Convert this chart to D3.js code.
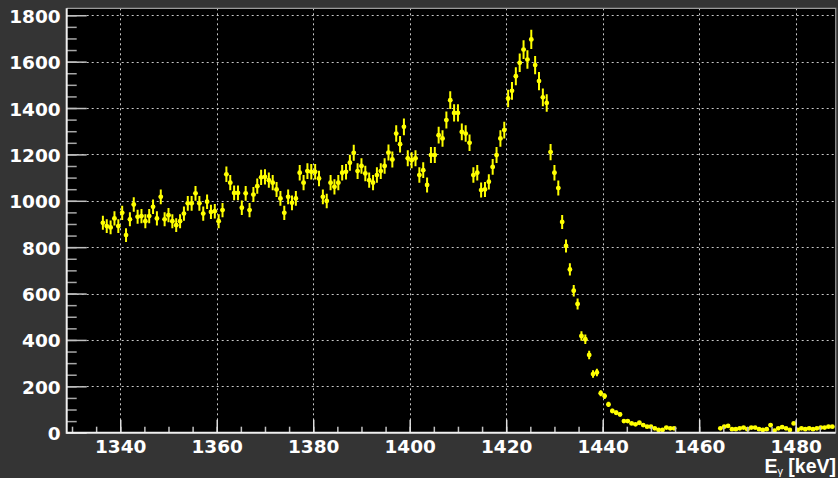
<!DOCTYPE html>
<html>
<head>
<meta charset="utf-8">
<script src="https://cdn.jsdelivr.net/npm/d3@7"></script>
<style>
  body { margin: 0; background: #343434; }
  svg { display: block; }
</style>
</head>
<body>
<div id="chart"></div>
<script>
// histogram binning (keV)
var binLow = 1328.8,
  binWidth = 0.8,
  firstBin = 9;

// counts per bin, starting at firstBin; null = empty bin
var counts = [
  905, 891, 885, 924, 891, 948, 852, 920, 984, 931,
  934, 912, 934, 974, 924, 1017, 920, 938, 912, 895,
  912, 945, 989, 989, 1032, 989, 945, 996, 952, 955,
  912, 960, 1114, 1078, 1034, 1034, 970, 1032, 960, 1027,
  1063, 1101, 1103, 1089, 1078, 1049, 1010, 948, 1017, 991,
  1010, 1121, 1078, 1128, 1125, 1125, 1096, 1017, 999, 1078,
  1060, 1078, 1121, 1125, 1164, 1207, 1128, 1150, 1118, 1089,
  1078, 1111, 1128, 1150, 1208, 1178, 1290, 1244, 1319, 1183,
  1175, 1183, 1111, 1132, 1068, 1197, 1197, 1283, 1269, 1348,
  1434, 1379, 1379, 1297, 1290, 1250, 1111, 1121, 1046, 1049,
  1082, 1146, 1197, 1269, 1305, 1441, 1474, 1537, 1595, 1652,
  1609, 1696, 1585, 1516, 1446, 1422, 1210, 1121, 1055, 909,
  805, 704, 612, 555, 417, 403, 335, 253, 260, 170,
  158, 122, 94, 86, 79, 50, 50, 40, 36, 43,
  33, 26, 26, 19, 12, 12, 22, 19, 19, null,
  null, null, null, null, null, null, null, null, null, null,
  19, 26, 29, 15, 15, 19, 22, 15, 22, 22,
  15, 12, 15, 33, 9, 19, 24, 19, 12, 40,
  12, 19, 15, 19, 15, 19, 22, 22, 26, 26
];

var xTicks = [1340, 1360, 1380, 1400, 1420, 1440, 1460, 1480];
var yTicks = [0, 200, 400, 600, 800, 1000, 1200, 1400, 1600, 1800];
var xTitle = "E", xTitleSub = "\u03b3", xTitleUnit = " [keV]";

var W = 838, H = 478;
var frame = { left: 66.7, right: 835.7, top: 8.3, bottom: 432.7 };

var x = d3.scaleLinear().domain([1328.9, 1488.3]).range([frame.left, frame.right]);
var y = d3.scaleLinear().domain([0, 1830]).range([frame.bottom, frame.top]);

var data = counts.map(function(c, i) {
  var lo = binLow + (firstBin + i) * binWidth;
  return { lo: lo, hi: lo + binWidth, mid: lo + binWidth / 2, value: c };
}).filter(function(d) { return d.value !== null; });

var svg = d3.select("#chart").append("svg")
  .attr("width", W)
  .attr("height", H);

svg.append("rect")
  .attr("width", W).attr("height", H)
  .attr("fill", "#343434");

svg.append("rect")
  .attr("x", frame.left).attr("y", frame.top)
  .attr("width", frame.right - frame.left)
  .attr("height", frame.bottom - frame.top)
  .attr("fill", "#000");

// grid
var grid = svg.append("g").attr("class", "grid")
  .attr("stroke", "#c8c8c8")
  .attr("stroke-width", 1)
  .attr("stroke-dasharray", "2,3");

grid.selectAll(".gx").data(xTicks).enter().append("line")
  .attr("x1", function(d) { return Math.round(x(d)) + 0.5; })
  .attr("x2", function(d) { return Math.round(x(d)) + 0.5; })
  .attr("y1", frame.top)
  .attr("y2", frame.bottom);

grid.selectAll(".gy").data(yTicks.slice(1)).enter().append("line")
  .attr("y1", function(d) { return Math.round(y(d)) + 0.5; })
  .attr("y2", function(d) { return Math.round(y(d)) + 0.5; })
  .attr("x1", frame.left)
  .attr("x2", frame.right);

// frame top / right
svg.append("path")
  .attr("d", "M" + frame.left + "," + frame.top + "H" + frame.right + "V" + frame.bottom)
  .attr("fill", "none")
  .attr("stroke", "#9a9a9a")
  .attr("stroke-width", 1.2);

// data: error bars + markers
var clip = svg.append("clipPath").attr("id", "clip")
  .append("rect")
  .attr("x", frame.left).attr("y", frame.top)
  .attr("width", frame.right - frame.left)
  .attr("height", frame.bottom - frame.top);

var pts = svg.append("g").attr("clip-path", "url(#clip)");

pts.selectAll(".ey").data(data).enter().append("line")
  .attr("x1", function(d) { return x(d.mid); })
  .attr("x2", function(d) { return x(d.mid); })
  .attr("y1", function(d) { return y(d.value + Math.sqrt(d.value)); })
  .attr("y2", function(d) { return y(d.value - Math.sqrt(d.value)); })
  .attr("stroke", "#ffff00")
  .attr("stroke-width", 2);

pts.selectAll(".ex").data(data).enter().append("line")
  .attr("x1", function(d) { return x(d.lo); })
  .attr("x2", function(d) { return x(d.hi); })
  .attr("y1", function(d) { return y(d.value); })
  .attr("y2", function(d) { return y(d.value); })
  .attr("stroke", "#ffff00")
  .attr("stroke-width", 2);

pts.selectAll("circle").data(data).enter().append("circle")
  .attr("cx", function(d) { return x(d.mid); })
  .attr("cy", function(d) { return y(d.value); })
  .attr("r", 2.4)
  .attr("fill", "#ffff00");

// y axis
var yMinor = svg.append("g")
  .attr("transform", "translate(" + frame.left + ",0)")
  .call(d3.axisLeft(y).tickValues(d3.range(0, 1830, 50)).tickSize(-10).tickFormat(""));
yMinor.select(".domain").remove();
yMinor.selectAll("line").attr("stroke", "#a8a8a8").attr("stroke-width", 1.5);

var yAxis = svg.append("g")
  .attr("transform", "translate(" + frame.left + ",0)")
  .call(d3.axisLeft(y).tickValues(yTicks).tickSize(-20).tickPadding(6).tickFormat(d3.format("d")));
yAxis.select(".domain").remove();
yAxis.selectAll("line").attr("stroke", "#c0c0c0").attr("stroke-width", 1.5);
yAxis.selectAll("text")
  .attr("fill", "#ffffff")
  .attr("dy", "0.38em")
  .style("font-family", "DejaVu Sans, sans-serif")
  .style("font-weight", "bold")
  .style("font-size", "18.5px");

// x axis
var xMinor = svg.append("g")
  .attr("transform", "translate(0," + frame.bottom + ")")
  .call(d3.axisBottom(x).tickValues(d3.range(1330, 1489, 5)).tickSize(-6).tickFormat(""));
xMinor.select(".domain").remove();
xMinor.selectAll("line").attr("stroke", "#c0c0c0").attr("stroke-width", 1.5);

var xAxis = svg.append("g")
  .attr("transform", "translate(0," + frame.bottom + ")")
  .call(d3.axisBottom(x).tickValues(xTicks).tickSize(-13).tickPadding(7).tickFormat(d3.format("d")));
xAxis.select(".domain").remove();
xAxis.selectAll("line").attr("stroke", "#e0e0e0").attr("stroke-width", 1.5);
xAxis.selectAll("text")
  .attr("fill", "#ffffff")
  .style("font-family", "DejaVu Sans, sans-serif")
  .style("font-weight", "bold")
  .style("font-size", "18.5px");

// axis lines
svg.append("line")
  .attr("x1", frame.left).attr("x2", frame.left)
  .attr("y1", frame.top).attr("y2", frame.bottom + 1)
  .attr("stroke", "#f0f0f0").attr("stroke-width", 2);
svg.append("line")
  .attr("x1", frame.left).attr("x2", frame.right)
  .attr("y1", frame.bottom).attr("y2", frame.bottom)
  .attr("stroke", "#f0f0f0").attr("stroke-width", 2);

// axis title
var title = svg.append("text")
  .attr("x", 836)
  .attr("y", 473)
  .attr("text-anchor", "end")
  .attr("fill", "#ffffff")
  .style("font-family", "Liberation Sans, Arial, sans-serif")
  .style("font-weight", "bold")
  .style("font-size", "19.5px");
title.append("tspan").text(xTitle);
title.append("tspan").attr("dy", 2).style("font-size", "11px").style("font-weight", "normal").text(xTitleSub);
title.append("tspan").attr("dy", -2).text(xTitleUnit);
</script>
</body>
</html>
